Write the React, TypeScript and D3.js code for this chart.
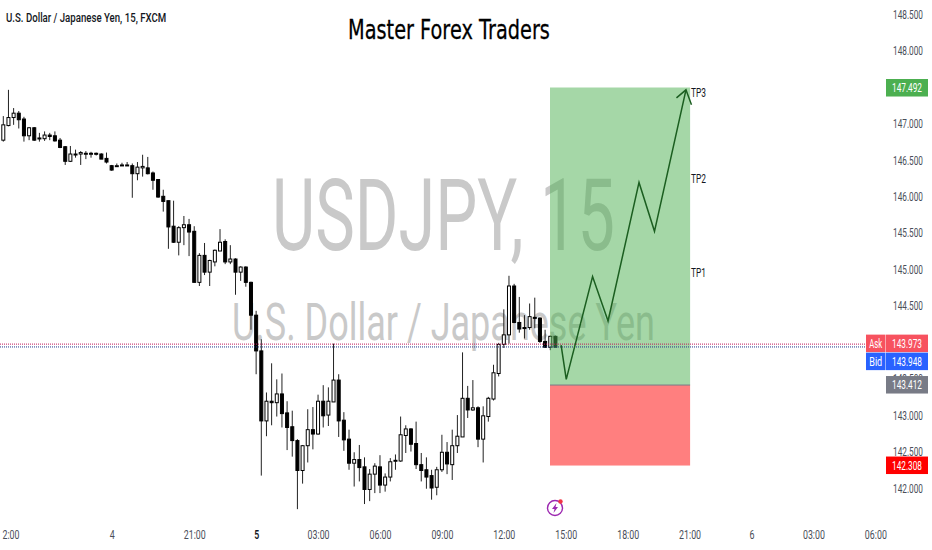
import React, { useEffect, useRef } from 'react';
import * as d3 from 'd3';

const opens = [146.77,146.97,147.08,147.14,147.06,146.83,146.94,146.80,146.79,146.84,
  146.83,146.77,146.68,146.48,146.57,146.58,146.58,146.58,146.59,146.58,
  146.52,146.42,146.42,146.42,146.42,146.42,146.31,146.39,146.39,146.32,
  146.23,146.00,145.94,145.59,145.37,145.57,145.61,145.52,144.82,145.19,
  144.96,145.10,145.25,145.38,145.10,145.14,144.96,145.03,144.82,144.37,
  143.88,142.92,143.19,143.17,143.29,143.03,142.84,142.65,142.24,142.58,
  142.80,142.74,143.19,143.00,143.18,143.48,142.93,142.67,142.34,142.39,
  142.29,141.98,142.19,142.29,142.04,142.15,142.37,142.37,142.72,142.81,
  142.61,142.32,142.25,142.17,142.01,142.25,142.49,142.32,142.58,142.70,
  143.23,143.07,143.10,142.67,142.98,143.22,143.57,143.97,144.10,144.77,
  144.27,144.20,144.20,144.34,144.33,144.01,143.93,144.08];
const closes = [146.98,147.08,147.14,147.05,146.83,146.94,146.77,146.79,146.84,146.82,
  146.76,146.67,146.48,146.58,146.58,146.60,146.59,146.59,146.58,146.51,
  146.47,146.36,146.42,146.43,146.43,146.31,146.40,146.41,146.31,146.22,
  145.99,145.93,145.58,145.37,145.57,145.61,145.51,144.82,145.19,144.96,
  145.12,145.26,145.37,145.10,145.14,144.96,145.03,144.82,144.37,143.88,
  142.92,143.19,143.17,143.29,143.02,142.83,142.65,142.24,142.58,142.80,
  142.74,143.19,142.99,143.19,143.48,142.92,142.66,142.34,142.39,142.28,
  141.98,142.19,142.30,142.04,142.15,142.36,142.38,142.73,142.81,142.60,
  142.32,142.24,142.15,142.00,142.25,142.49,142.33,142.58,142.71,143.23,
  143.07,143.10,142.67,142.99,143.23,143.58,143.97,144.10,144.77,144.27,
  144.18,144.19,144.35,144.33,144.01,143.93,144.08,143.93];
const highs = [147.10,147.46,147.21,147.17,147.09,146.95,146.95,146.87,146.89,146.87,
  146.89,146.80,146.69,146.69,146.64,146.62,146.62,146.61,146.60,146.59,
  146.60,146.43,146.45,146.46,146.47,146.45,146.47,146.57,146.54,146.34,
  146.23,146.09,145.94,145.94,145.59,145.73,145.69,145.59,145.22,145.36,
  145.13,145.27,145.55,145.41,145.33,145.15,145.04,145.04,144.83,144.43,
  144.04,143.31,143.71,143.49,143.57,143.19,143.06,142.67,142.59,143.08,
  143.11,143.28,143.41,143.38,143.98,143.56,143.04,142.80,142.49,142.59,
  142.42,142.26,142.34,142.45,142.20,142.41,142.46,142.98,142.86,142.82,
  142.91,142.48,142.42,142.25,142.29,142.73,142.63,142.80,143.00,143.86,
  143.40,143.48,143.12,143.12,143.25,143.69,143.99,144.45,144.91,144.80,
  144.62,144.37,144.53,144.61,144.34,144.17,144.09,144.09];
const lows = [146.75,146.96,146.98,146.93,146.75,146.77,146.76,146.75,146.76,146.77,
  146.75,146.66,146.43,146.47,146.53,146.43,146.51,146.53,146.56,146.51,
  146.45,146.35,146.41,146.42,146.42,145.98,146.22,146.27,146.30,146.09,
  145.98,145.79,145.28,145.36,145.19,145.33,145.18,144.82,144.77,144.92,
  144.77,145.04,145.25,145.07,145.07,144.65,144.84,144.76,144.17,143.56,
  142.17,142.71,142.86,142.98,142.83,142.52,142.43,141.71,142.06,142.35,
  142.53,142.73,142.83,142.85,143.18,142.70,142.51,142.25,142.02,142.09,
  141.78,141.82,141.93,141.93,141.95,142.09,142.25,142.36,142.48,142.50,
  142.26,142.09,141.99,141.84,141.90,142.22,142.19,142.11,142.48,142.70,
  142.96,143.06,142.56,142.35,142.91,143.20,143.53,143.92,143.98,144.26,
  144.13,144.05,144.17,144.19,143.99,143.92,143.89,143.93];

const priceTicks = [142, 142.5, 143, 143.5, 144, 144.5, 145, 145.5, 146, 146.5, 147, 147.5, 148, 148.5];
const timeTicks = [1.4, 21, 37, 49, 61, 73, 85, 97, 109, 121, 133, 145, 157, 169];
const timeLabels = ['2:00', '4', '21:00', '5', '03:00', '06:00', '09:00', '12:00', '15:00', '18:00', '21:00', '6', '03:00', '06:00'];

// projected path drawn on the long position tool
const pathIdx = [108.1, 109.1, 114.2, 117.2, 123.2, 126.2, 132.3];
const pathPrice = [143.96, 143.49, 144.90, 144.29, 146.19, 145.52, 147.46];

const askPrice = 143.973;
const bidPrice = 143.948;
const takeProfit = 147.492;
const entry = 143.412;
const stopLoss = 142.308;
const toolStart = 105.95;
const toolEnd = 133.1;
const tpLevels = [147.43, 146.25, 144.96];
const tpNames = ['TP3', 'TP2', 'TP1'];

const App = () => {
  const ref = useRef(null);

  useEffect(() => {
    const svg = d3.select(ref.current);
    svg.selectAll('*').remove();

    const x = d3.scaleLinear().domain([0, 100]).range([3.3, 519.3]);
    const y = d3.scaleLinear().domain([142, 148.5]).range([488, 14]);
    const font = 'Roboto, sans-serif';

    // the screenshot is squeezed sideways, so scale text to its measured width
    const squeeze = (node, w, px = 0, py = 0) => {
      const n = node.getComputedTextLength();
      d3.select(node).attr('transform', `translate(${px},${py}) scale(${w / n},1)`);
    };
    const label = (txt, px, py, w, size, fill, family = font) => {
      const t = svg.append('text').text(txt)
        .attr('font-family', family).attr('font-size', size).attr('fill', fill);
      squeeze(t.node(), w, px, py);
      return t;
    };

    svg.append('rect').attr('width', 932).attr('height', 550).attr('fill', '#ffffff');

    // watermark
    label('USDJPY, 15', 272, 250, 343, 100, '#c9c9c9');
    label('U.S. Dollar / Japanese Yen', 232, 340, 423, 52, '#c9c9c9');

    // candles
    const candles = svg.append('g');
    opens.forEach((o, i) => {
      const c = closes[i];
      const up = c >= o;
      const top = y(Math.max(o, c));
      const bot = y(Math.min(o, c));
      candles.append('line')
        .attr('x1', x(i)).attr('x2', x(i))
        .attr('y1', y(highs[i])).attr('y2', y(lows[i]))
        .attr('stroke', '#222').attr('stroke-width', 1);
      candles.append('rect')
        .attr('x', x(i) - 1.5).attr('width', 3)
        .attr('y', top).attr('height', Math.max(bot - top, 1))
        .attr('fill', up ? '#fff' : '#000')
        .attr('stroke', '#000').attr('stroke-width', 1);
    });

    // long position tool
    const tx = x(toolStart);
    const tw = x(toolEnd) - tx;
    svg.append('rect').attr('x', tx).attr('width', tw)
      .attr('y', y(takeProfit)).attr('height', y(entry) - y(takeProfit))
      .attr('fill', '#4caf50').attr('fill-opacity', 0.5);
    svg.append('rect').attr('x', tx).attr('width', tw)
      .attr('y', y(entry)).attr('height', y(stopLoss) - y(entry))
      .attr('fill', '#ff0000').attr('fill-opacity', 0.5);
    svg.append('line').attr('x1', tx).attr('x2', tx + tw)
      .attr('y1', y(entry)).attr('y2', y(entry))
      .attr('stroke', '#787b86').attr('stroke-width', 1);

    // ask / bid lines
    svg.append('line').attr('x1', 0).attr('x2', 866).attr('y1', y(askPrice)).attr('y2', y(askPrice))
      .attr('stroke', '#c2185b').attr('stroke-dasharray', '1,1');
    svg.append('line').attr('x1', 0).attr('x2', 866).attr('y1', y(bidPrice) + 1).attr('y2', y(bidPrice) + 1)
      .attr('stroke', '#1e3a8a').attr('stroke-dasharray', '1,1');

    // projected path + arrow head
    const line = d3.line().x((d: any) => x(d[0])).y((d: any) => y(d[1]));
    svg.append('path')
      .attr('d', line(pathIdx.map((d, i) => [d, pathPrice[i]]) as any))
      .attr('fill', 'none').attr('stroke', '#1b5e20').attr('stroke-width', 1.5);
    const tipX = x(pathIdx[6]);
    const tipY = y(pathPrice[6]);
    svg.append('path')
      .attr('d', `M${tipX - 9.5},${tipY + 8}L${tipX},${tipY}L${tipX + 5.5},${tipY + 15}`)
      .attr('fill', 'none').attr('stroke', '#1b5e20').attr('stroke-width', 1.5);

    tpNames.forEach((n, i) => {
      label(n, 691, y(tpLevels[i]) + 4.5, 15, 12.5, '#131722');
    });

    // axes
    const yAxis = svg.append('g').attr('transform', 'translate(893,0)')
      .call(d3.axisRight(y).tickValues(priceTicks).tickFormat(d3.format('.3f')).tickSize(0).tickPadding(0));
    yAxis.select('.domain').remove();
    yAxis.selectAll('text')
      .attr('font-family', font).attr('font-size', 13).attr('fill', '#4a4e59')
      .each(function () { squeeze(this, 30); });

    const xAxis = svg.append('g').attr('transform', 'translate(0,530)')
      .call(d3.axisBottom(x).tickValues(timeTicks)
        .tickFormat((_, i) => timeLabels[i]).tickSize(0).tickPadding(0));
    xAxis.select('.domain').remove();
    xAxis.selectAll('text')
      .attr('font-family', font).attr('font-size', 13).attr('fill', '#4a4e59')
      .each(function (_, i) {
        const s = timeLabels[i];
        if (s === '5') d3.select(this).attr('fill', '#131722').attr('font-weight', 600);
        squeeze(this, s.length === 5 ? 22 : s.length === 4 ? 17 : 5);
      });

    // price tags
    const tag = (px, py, w, h, fill, txt, tw2) => {
      svg.append('rect').attr('x', px).attr('y', py).attr('width', w).attr('height', h).attr('fill', fill);
      label(txt, px + (w - tw2) / 2, py + h / 2 + 4.7, tw2, 13, '#fff');
    };
    const valueTxt = d3.format('.3f');
    tag(866, y(askPrice) - 9.5, 19.5, 17.5, '#f7525f', 'Ask', 13);
    tag(886, y(askPrice) - 9.5, 42, 17.5, '#f7525f', valueTxt(askPrice), 30);
    tag(866, y(askPrice) + 8.5, 19.5, 17.5, '#2962ff', 'Bid', 13);
    tag(886, y(askPrice) + 8.5, 42, 17.5, '#2962ff', valueTxt(bidPrice), 30);
    tag(886, y(entry) - 9, 42, 17.5, '#787b86', valueTxt(entry), 30);
    tag(886, y(stopLoss) - 9, 42, 17.5, '#ff0000', valueTxt(stopLoss), 30);
    tag(886, y(takeProfit) - 8.5, 42, 17.5, '#4caf50', valueTxt(takeProfit), 30);

    // titles
    label('U.S. Dollar / Japanese Yen, 15, FXCM', 6, 22, 159, 13.5, '#131722').attr('font-weight', 500);
    label('Master Forex Traders', 348, 39, 202, 27, '#000', '"DejaVu Sans", sans-serif')
      .attr('stroke', '#000').attr('stroke-width', 0.3);

    // lightning badge
    const badge = svg.append('g').attr('transform', 'translate(555,508)');
    badge.append('circle').attr('r', 7.5).attr('fill', 'none').attr('stroke', '#9c27b0').attr('stroke-width', 1.4);
    badge.append('path').attr('d', 'M1.5,-5L-3,1L-0.5,1L-1.5,5L3,-1L0.5,-1Z').attr('fill', '#9c27b0');
    badge.append('circle').attr('cx', 5.5).attr('cy', -6.5).attr('r', 2.2).attr('fill', '#f23645');
  }, []);

  return (
    <svg ref={ref} width={932} height={550} style={{ position: 'absolute', left: 0, top: 0 }}></svg>
  );
};

export default App;
